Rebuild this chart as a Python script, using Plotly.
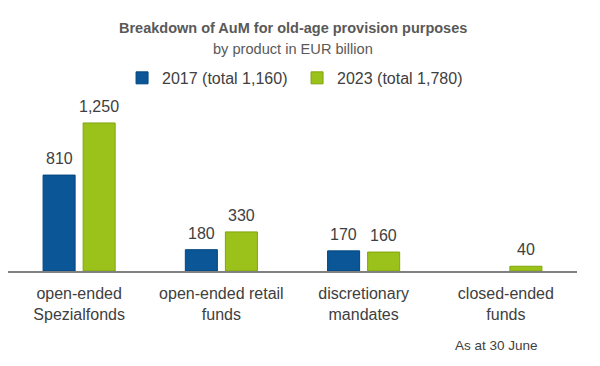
import plotly.graph_objects as go

categories = ["open-ended<br>Spezialfonds", "open-ended retail<br>funds", "discretionary<br>mandates", "closed-ended<br>funds"]
values_2017 = [810, 180, 170, None]
values_2023 = [1250, 330, 160, 40]
labels_2017 = ["810", "180", "170", ""]
labels_2023 = ["1,250", "330", "160", "40"]

FONT = "Liberation Sans, Arial, sans-serif"
TXT = "#404040"
BLUE = "#0B5697"
BLUE_EDGE = "#00457F"
GREEN = "#9AC21B"
GREEN_EDGE = "#80A50C"

fig = go.Figure()
fig.add_trace(go.Bar(x=categories, y=values_2017, name="2017 (total 1,160)",
                     marker=dict(color=BLUE, line=dict(color=BLUE_EDGE, width=1))))
fig.add_trace(go.Bar(x=categories, y=values_2023, name="2023 (total 1,780)",
                     marker=dict(color=GREEN, line=dict(color=GREEN_EDGE, width=1))))

annotations = [
    dict(text="<b>Breakdown of AuM for old-age provision purposes</b>", x=0.5, xref="paper",
         y=1.421, yref="paper", xanchor="center", yanchor="middle", showarrow=False,
         font=dict(size=14.5, color="#595959", family=FONT)),
    dict(text="by product in EUR billion", x=0.5, xref="paper",
         y=1.298, yref="paper", xanchor="center", yanchor="middle", showarrow=False,
         font=dict(size=14.6, color="#595959", family=FONT)),
    dict(text="As at 30 June", x=0.858, xref="paper",
         y=-0.433, yref="paper", xanchor="center", yanchor="middle", showarrow=False,
         font=dict(size=13.5, color=TXT, family=FONT)),
]
# value labels above bars
for vals, labs, shift in ((values_2017, labels_2017, -20), (values_2023, labels_2023, 20)):
    for c, v, t in zip(categories, vals, labs):
        if v is None or not t:
            continue
        annotations.append(dict(text=t, x=c, y=v, xref="x", yref="y", xshift=shift, yshift=6,
                                xanchor="center", yanchor="bottom", showarrow=False,
                                font=dict(size=16, color=TXT, family=FONT)))

fig.update_layout(
    width=600, height=366,
    margin=dict(l=8, r=23, t=100, b=95),
    paper_bgcolor="white", plot_bgcolor="white",
    font=dict(family=FONT, color=TXT, size=16),
    barmode="group", bargap=0.437, bargroupgap=0.2,
    showlegend=True,
    legend=dict(orientation="h", x=0.508, xanchor="center", y=1.129, yanchor="middle",
                font=dict(size=16, color=TXT), itemwidth=30, tracegroupgap=0,
                entrywidth=130),
    xaxis=dict(showline=True, linecolor="#808080", linewidth=2, ticks="",
               tickfont=dict(size=16, color=TXT), ticklabelstandoff=7,
               showgrid=False, fixedrange=True),
    yaxis=dict(range=[0, 1444], visible=False, showgrid=False, zeroline=False),
    annotations=annotations,
)

fig.write_html("out.html", config={"displayModeBar": False},
               post_script="document.body.style.margin='0';")
